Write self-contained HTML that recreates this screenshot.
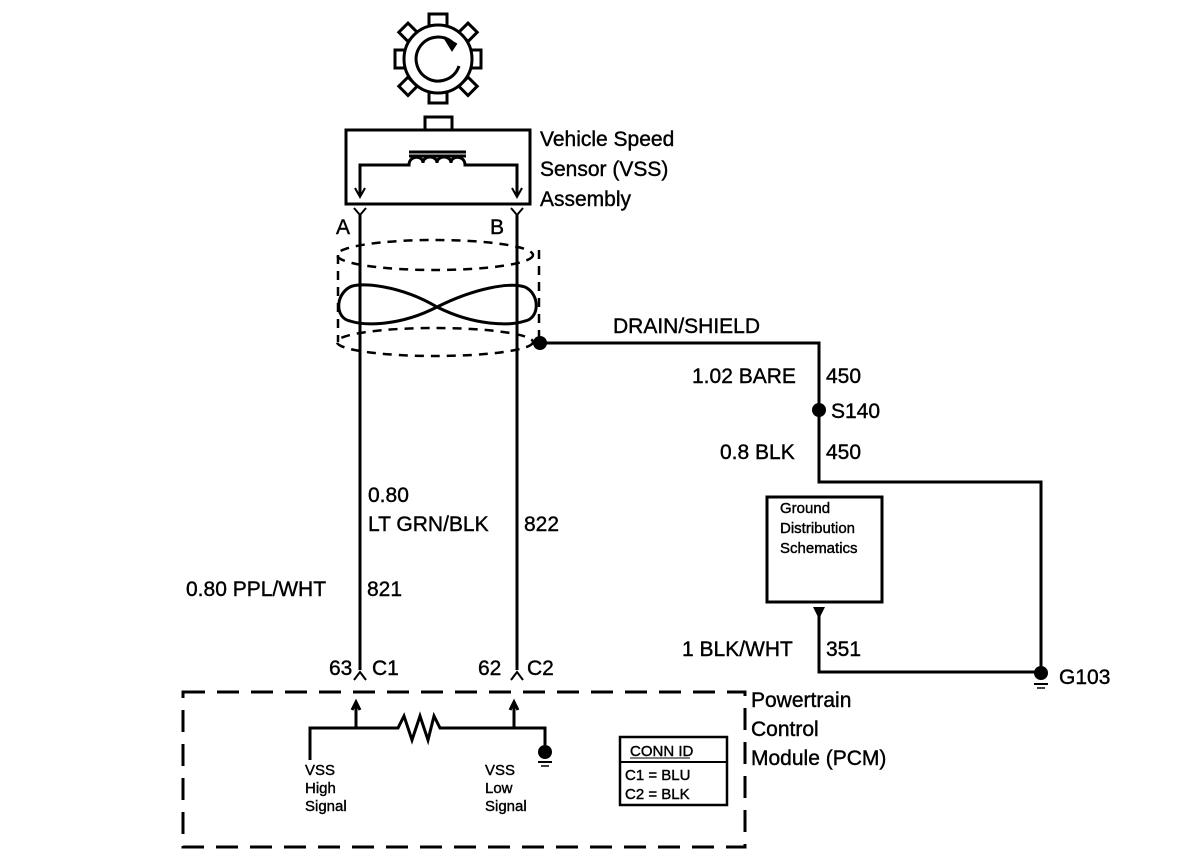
<!DOCTYPE html>
<html><head><style>
html,body{margin:0;padding:0;background:#fff;}
svg{display:block;}
text{font-family:"Liberation Sans",Arial,sans-serif;fill:#000;stroke:#000;stroke-width:0.4;}
</style></head><body>
<svg width="1184" height="864" viewBox="0 0 1184 864" xmlns="http://www.w3.org/2000/svg">
<g stroke="#000" stroke-width="3" fill="none">
<!-- gear -->
<rect x="429" y="14" width="18" height="13"/>
<rect x="429" y="90" width="18" height="13"/>
<rect x="395" y="50" width="13" height="18"/>
<rect x="468" y="50" width="13" height="18"/>
<rect x="401" y="26" width="13" height="13" transform="rotate(45 408 33)"/>
<rect x="461" y="26" width="13" height="13" transform="rotate(45 468 33)"/>
<rect x="401" y="80" width="13" height="13" transform="rotate(45 408 87)"/>
<rect x="461" y="80" width="13" height="13" transform="rotate(45 468 87)"/>
<circle cx="438" cy="59" r="34" fill="#fff"/>
<path d="M452 42 A22 22 0 1 0 459 66"/>
<path d="M444 37 L456 44 L452 50 Z" fill="#000" stroke-width="2"/>
<!-- sensor -->
<rect x="425" y="117" width="27" height="13"/>
<rect x="346" y="130" width="184" height="74"/>
<line x1="409" y1="152" x2="466" y2="152"/>
<line x1="409" y1="156" x2="466" y2="156"/>
<path d="M360 196 V165 H409 C409 155 423 155 423 163 C423 155 437 155 437 163 C437 155 451 155 451 163 C451 155 465 155 465 165 H517 V196"/>
<path d="M355 188 L360 197 L365 188 M512 188 L517 197 L522 188" stroke-width="2"/>
<!-- wires -->
<line x1="360" y1="214" x2="360" y2="670"/>
<line x1="517" y1="214" x2="517" y2="670"/>
<path d="M354 208 L360 215 L366 208 M511 208 L517 215 L523 208" stroke-width="2"/>
<path d="M354 680 L360 672 L366 680 M511 680 L517 672 L523 680" stroke-width="2"/>
<!-- shield -->
<g stroke-dasharray="9,7" stroke-width="2.5">
<ellipse cx="435" cy="255" rx="98" ry="15"/>
<ellipse cx="435" cy="342" rx="98" ry="14"/>
<line x1="338" y1="255" x2="338" y2="342"/>
<line x1="539" y1="250" x2="539" y2="342"/>
</g>
<path d="M437 307 C400 285 360 282 350 287 C335 295 335 318 350 321 C365 326 400 326 437 307 C475 288 510 282 525 287 C540 294 540 318 525 321 C510 326 475 326 437 307Z"/>
<!-- drain -->
<path d="M540 343 H819 V482 H1041 V672"/>
<path d="M819 612 V672 H1041"/>
<rect x="767" y="497" width="115" height="105"/>
<!-- PCM -->
<rect x="183" y="692" width="562" height="155" stroke-dasharray="22,12" stroke-width="3"/>
<path d="M356 728 V702 M352 710 L356 702 L360 710 M514 728 V702 M510 710 L514 702 L518 710"/>
<path d="M310 760 V728 H398 L404 716 L412 740 L420 716 L428 740 L434 716 L440 728 H545 V745"/>
<line x1="538" y1="762" x2="552" y2="762" stroke-width="2"/>
<line x1="541" y1="766" x2="549" y2="766" stroke-width="1.5"/>
<rect x="620" y="737" width="107" height="68" stroke-width="2.5"/>
<line x1="620" y1="762" x2="727" y2="762" stroke-width="2"/>
<line x1="1034" y1="684" x2="1048" y2="684" stroke-width="2"/>
<line x1="1037" y1="688" x2="1045" y2="688" stroke-width="1.5"/>
</g>
<g fill="#000">
<circle cx="540" cy="343" r="7"/>
<circle cx="819" cy="410" r="7"/>
<circle cx="1041" cy="673" r="7"/>
<circle cx="545" cy="752" r="7"/>
<path d="M813 607 H825 L819 619Z"/>
</g>
<g font-size="21">
<text x="540" y="146">Vehicle Speed</text>
<text x="540" y="176">Sensor (VSS)</text>
<text x="540" y="206">Assembly</text>
<text x="336" y="234">A</text>
<text x="490" y="234">B</text>
<text x="613" y="333">DRAIN/SHIELD</text>
<text x="692" y="383">1.02 BARE</text>
<text x="826" y="383">450</text>
<text x="831" y="418">S140</text>
<text x="720" y="459">0.8 BLK</text>
<text x="826" y="459">450</text>
<text x="368" y="502">0.80</text>
<text x="368" y="531">LT GRN/BLK</text>
<text x="524" y="531">822</text>
<text x="186" y="596">0.80 PPL/WHT</text>
<text x="367" y="596">821</text>
<text x="682" y="656">1 BLK/WHT</text>
<text x="826" y="656">351</text>
<text x="1059" y="684">G103</text>
<text x="329" y="675">63</text>
<text x="372" y="675">C1</text>
<text x="478" y="675">62</text>
<text x="527" y="675">C2</text>
<text x="751" y="707">Powertrain</text>
<text x="751" y="736">Control</text>
<text x="751" y="765">Module (PCM)</text>
</g>
<g font-size="15">
<text x="780" y="513">Ground</text>
<text x="780" y="533">Distribution</text>
<text x="780" y="553">Schematics</text>
<text x="305" y="775">VSS</text>
<text x="305" y="793">High</text>
<text x="305" y="811">Signal</text>
<text x="485" y="775">VSS</text>
<text x="485" y="793">Low</text>
<text x="485" y="811">Signal</text>
<text x="630" y="756">CONN ID</text>
<text x="625" y="780">C1 = BLU</text>
<text x="625" y="799">C2 = BLK</text>
</g>
<line x1="630" y1="758" x2="690" y2="758" stroke="#000" stroke-width="1"/>
</svg>
</body></html>
